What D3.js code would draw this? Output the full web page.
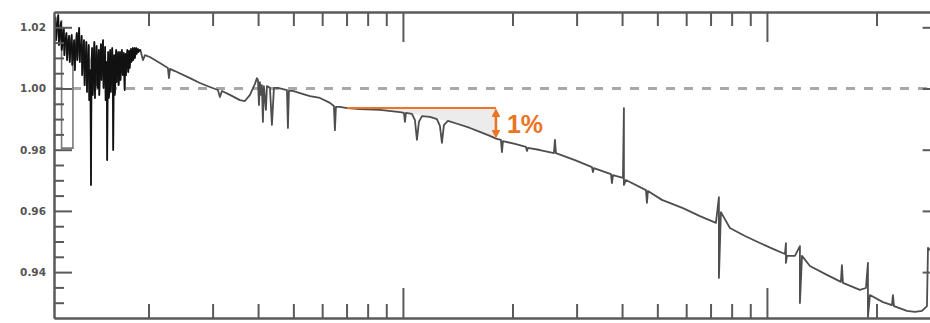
<!DOCTYPE html>
<html>
<head>
<meta charset="utf-8">
<script src="https://cdn.jsdelivr.net/npm/d3@7"></script>
<style>
  html, body { margin: 0; padding: 0; background: #fff; }
  svg { display: block; }
</style>
</head>
<body>
<svg id="chart" width="930" height="323"></svg>
<script>
// Ultraviolet part of the spectrum: dense forest of lines
const uvWavelength = [
  0.111, 0.1115, 0.112, 0.1125, 0.113, 0.1135, 0.114, 0.1145, 0.115, 0.1155,
  0.116, 0.1165, 0.117, 0.1175, 0.118, 0.1185, 0.119, 0.1195, 0.120, 0.1205,
  0.121, 0.1215, 0.122, 0.1225, 0.123, 0.1235, 0.124, 0.1245, 0.125, 0.1255,
  0.126, 0.1265, 0.127, 0.1275, 0.128, 0.1285, 0.129, 0.1295, 0.130, 0.1305,
  0.131, 0.1315, 0.132, 0.1325, 0.133, 0.1335, 0.134, 0.1345, 0.135, 0.1355,
  0.136, 0.1365, 0.137, 0.1375, 0.138, 0.1385, 0.139, 0.1395, 0.140, 0.1405,
  0.141, 0.1415, 0.142, 0.1425, 0.143, 0.1435, 0.144, 0.1445, 0.145, 0.1455,
  0.146, 0.1465, 0.147, 0.1475, 0.148, 0.1485, 0.149, 0.1495, 0.150, 0.1505,
  0.151, 0.1515, 0.152, 0.1525, 0.153, 0.1535, 0.154, 0.1545, 0.155, 0.1555,
  0.156, 0.1565, 0.157, 0.1575, 0.158, 0.1585, 0.159, 0.1595, 0.160, 0.1605,
  0.161, 0.1615, 0.162, 0.1625, 0.163, 0.1635, 0.164, 0.1645, 0.165, 0.1655,
  0.166, 0.1665, 0.167, 0.1675, 0.168, 0.1685, 0.169, 0.1695, 0.170, 0.1705,
  0.171, 0.1715, 0.172, 0.1725, 0.173, 0.1735, 0.174, 0.1745, 0.175, 0.1755,
  0.176, 0.1765, 0.177, 0.1775, 0.178, 0.1785, 0.179, 0.1795, 0.180, 0.1805,
  0.181, 0.1815, 0.182, 0.1825, 0.183, 0.1835, 0.184, 0.1845, 0.185, 0.1855,
  0.186, 0.1865, 0.187, 0.1875, 0.188, 0.1885, 0.189, 0.1895
];
const uvRatio = [
  1.0234, 1.0158, 1.0191, 1.0217, 1.0240, 1.0142, 1.0165, 1.0198, 1.0217, 1.0126,
  1.0142, 1.0185, 1.0198, 1.0109, 1.0152, 1.0165, 1.0181, 1.0093, 1.0126, 1.0158,
  1.0172, 1.0087, 1.0119, 1.0152, 1.0175, 1.0077, 1.0100, 1.0142, 1.0158, 1.0060,
  1.0109, 1.0142, 1.0181, 1.0093, 1.0132, 1.0175, 1.0198, 1.0087, 1.0142, 1.0126,
  1.0172, 1.0044, 1.0087, 1.0132, 1.0158, 1.0011, 1.0067, 1.0109, 1.0152, 0.9989,
  1.0044, 1.0093, 1.0142, 0.9962, 0.9995, 1.0060, 0.9685, 1.0093, 1.0132, 0.9979,
  1.0028, 1.0109, 1.0152, 0.9969, 1.0060, 1.0093, 1.0139, 1.0011, 1.0002, 1.0087,
  1.0126, 0.9979, 1.0054, 1.0109, 1.0145, 1.0028, 1.0077, 1.0126, 1.0158, 1.0002,
  1.0034, 1.0093, 1.0136, 0.9962, 1.0011, 1.0087, 0.9766, 1.0060, 1.0119, 0.9969,
  0.9979, 1.0093, 1.0126, 0.9989, 1.0021, 1.0100, 1.0132, 1.0044, 0.9799, 1.0087,
  1.0109, 0.9979, 1.0002, 1.0100, 1.0126, 1.0021, 1.0060, 1.0093, 1.0119, 1.0011,
  1.0034, 1.0100, 1.0119, 1.0028, 1.0067, 1.0093, 1.0126, 1.0054, 1.0044, 1.0100,
  1.0116, 1.0060, 0.9995, 1.0100, 1.0113, 1.0044, 1.0074, 1.0106, 1.0126, 1.0077,
  1.0054, 1.0109, 1.0123, 1.0067, 1.0083, 1.0113, 1.0129, 1.0087, 1.0093, 1.0119,
  1.0132, 1.0093, 1.0100, 1.0119, 1.0132, 1.0100, 1.0109, 1.0123, 1.0132, 1.0113,
  1.0119, 1.0126, 1.0129, 1.0119, 1.0123, 1.0126, 1.0126, 1.0123
];

// Visible and infrared part: smooth continuum with isolated lines
const wavelength = [
  0.190, 0.1931, 0.1956, 0.2017, 0.2150, 0.2261, 0.2276, 0.2291, 0.2363, 0.2600,
  0.2768, 0.2949, 0.3102, 0.3142, 0.3183, 0.3347, 0.3566, 0.3681, 0.3800, 0.3922,
  0.3971, 0.3997, 0.4022, 0.4046, 0.4072, 0.4098, 0.4124, 0.4150, 0.4204, 0.4231,
  0.4312, 0.4366, 0.4422, 0.4535, 0.4681, 0.4802, 0.4831, 0.4862, 0.4986, 0.5212,
  0.5553, 0.5916, 0.6302, 0.6462, 0.6504, 0.6545, 0.6714, 0.7018, 0.7619, 0.8643,
  0.9812, 1.0063, 1.0127, 1.0192, 1.0586, 1.0788, 1.0926, 1.1065, 1.1277, 1.1863,
  1.2400, 1.2636, 1.2798, 1.2962, 1.3294, 1.4162, 1.5278, 1.6270, 1.7338, 1.8010,
  1.8585, 1.8707, 1.8826, 2.0310, 2.1774, 2.1918, 2.2053, 2.3786, 2.5990, 2.6160,
  2.6322, 2.969, 3.3060, 3.3266, 3.3475, 3.7283, 3.7520, 3.7757, 4.0219, 4.0467,
  4.0467, 4.0983, 4.6522, 4.6814, 4.7107, 5.1475, 5.8792, 6.5463, 7.2424, 7.3806,
  7.3806, 7.4747, 7.9123, 8.7029, 9.567, 10.388, 11.207, 11.278, 11.278, 11.348,
  11.937, 12.321, 12.321, 12.484, 13.126, 14.616, 15.968, 16.069, 16.172, 18.009,
  18.707, 18.945, 18.945, 19.187, 20.834, 22.050, 22.192, 22.335, 24.245, 25.50,
  26.66, 27.522, 27.70, 28.04
];
const ratio = [
  1.0126, 1.0093, 1.0109, 1.0103, 1.0083, 1.0067, 1.0034, 1.0064, 1.0057, 1.0034,
  1.0018, 1.0005, 0.9995, 0.9972, 0.9992, 0.9979, 0.9962, 0.9959, 0.9979, 1.0015,
  1.0034, 1.0028, 0.9946, 1.0021, 0.9979, 1.0011, 0.9891, 1.0008, 0.9930, 1.0008,
  1.0002, 0.9881, 1.0002, 1.0002, 0.9998, 0.9995, 0.9871, 0.9992, 0.9992, 0.9985,
  0.9975, 0.9969, 0.9953, 0.9943, 0.9864, 0.9940, 0.9940, 0.9936, 0.9933, 0.9930,
  0.9923, 0.9920, 0.9891, 0.9920, 0.9917, 0.9897, 0.9832, 0.9891, 0.9910, 0.9907,
  0.9900, 0.9878, 0.9822, 0.9881, 0.9894, 0.9884, 0.9871, 0.9858, 0.9845, 0.9836,
  0.9832, 0.9792, 0.9828, 0.9819, 0.9809, 0.9796, 0.9806, 0.9799, 0.9789, 0.9832,
  0.9789, 0.9766, 0.9743, 0.9727, 0.9740, 0.9720, 0.9691, 0.9717, 0.9708, 0.9936,
  0.9685, 0.9701, 0.9668, 0.9626, 0.9665, 0.9636, 0.9609, 0.9583, 0.9561, 0.9645,
  0.9381, 0.9596, 0.9544, 0.9518, 0.9495, 0.9476, 0.9459, 0.9495, 0.9430, 0.9453,
  0.9453, 0.9485, 0.9299, 0.9453, 0.9420, 0.9391, 0.9368, 0.9423, 0.9365, 0.9342,
  0.9348, 0.9430, 0.9253, 0.9325, 0.9302, 0.9292, 0.9325, 0.9289, 0.9273, 0.9270,
  0.9273, 0.9289, 0.9479, 0.9472
];

// Coarse-binned trace in the far ultraviolet (grey)
const binWavelength = [0.1154, 0.1154, 0.1240, 0.1240];
const binRatio = [1.0224, 0.9805, 0.9805, 1.0149];

// Continuum under the highlighted 1% drop
const shadeWavelength = [0.7018, 0.8643, 0.9812, 1.1863, 1.4162, 1.6270, 1.8010];
const shadeRatio = [0.9936, 0.9930, 0.9923, 0.9907, 0.9884, 0.9858, 0.9836];

const referenceLevel = 1.00;
const dropStart = 0.7018;
const dropEnd = 1.8010;
const dropLevel = 0.9936;
const dropPercent = 1;
const dropLabel = "1%";

const yMajorTicks = [0.94, 0.96, 0.98, 1.00, 1.02];
const yMinorTicks = [0.93, 0.935, 0.945, 0.95, 0.955, 0.965, 0.97, 0.975,
                     0.985, 0.99, 0.995, 1.005, 1.01, 1.015];
const xMajorTicks = [1, 10];
const xMinorTicks = [0.2, 0.3, 0.4, 0.5, 0.6, 0.7, 0.8, 0.9,
                     2, 3, 4, 5, 6, 7, 8, 9, 20];

const plotLeft = 54, plotRight = 940.6, plotTop = 12, plotBottom = 318;
const axisColor = "#5a5a5a";
const orange = "#ec7424";

const svg = d3.select("#chart");
const x = d3.scaleLog().domain([0.11, 30]).range([plotLeft, plotRight]);
const y = d3.scaleLinear().domain([0.925, 1.025]).range([plotBottom, plotTop]);

const defs = svg.append("defs");
defs.append("clipPath").attr("id", "plot-clip")
  .append("rect").attr("x", plotLeft).attr("y", plotTop)
  .attr("width", plotRight - plotLeft).attr("height", plotBottom - plotTop);

defs.append("marker")
  .attr("id", "head").attr("viewBox", "0 0 10 10")
  .attr("refX", 5).attr("refY", 5)
  .attr("markerWidth", 3.4).attr("markerHeight", 3.4)
  .attr("orient", "auto-start-reverse")
  .append("path").attr("d", "M0,0 L10,5 L0,10 z").attr("fill", orange);

const plot = svg.append("g").attr("clip-path", "url(#plot-clip)");

// Light band between the flat reference and the continuum
const shade = shadeWavelength.map((w, i) => [w, shadeRatio[i]]);
plot.append("path")
  .datum(shade)
  .attr("fill", "#ececec")
  .attr("d", d3.area()
    .x(d => x(d[0]))
    .y0(y(dropLevel))
    .y1(d => y(d[1])));

// Dashed unity line
plot.append("line")
  .attr("x1", plotLeft).attr("x2", plotRight)
  .attr("y1", y(referenceLevel)).attr("y2", y(referenceLevel))
  .attr("stroke", "#a8a8a8").attr("stroke-width", 3)
  .attr("stroke-dasharray", "9,9");

const line = d3.line().x(d => x(d[0])).y(d => y(d[1]));

// Binned trace
plot.append("path")
  .datum(binWavelength.map((w, i) => [w, binRatio[i]]))
  .attr("fill", "none").attr("stroke", "#7a7a7a").attr("stroke-width", 1.6)
  .attr("d", line);

// Spectrum
const uvPart = uvWavelength.map((w, i) => [w, uvRatio[i]]);
const mainPart = wavelength.map((w, i) => [w, ratio[i]]);
plot.append("path")
  .datum(uvPart.concat(mainPart))
  .attr("fill", "none").attr("stroke", "#4e4e4e")
  .attr("stroke-width", 1.8).attr("stroke-linejoin", "round")
  .attr("d", line);
plot.append("path")
  .datum(uvPart.concat([mainPart[0]]))
  .attr("fill", "none").attr("stroke", "#111")
  .attr("stroke-width", 1.5).attr("stroke-linejoin", "round")
  .attr("d", line);

// Orange flat level and the drop arrow
svg.append("line")
  .attr("x1", x(dropStart)).attr("x2", x(dropEnd))
  .attr("y1", y(dropLevel)).attr("y2", y(dropLevel))
  .attr("stroke", orange).attr("stroke-width", 2);
const dropBottom = dropLevel - dropPercent / 100;
svg.append("line")
  .attr("x1", x(dropEnd)).attr("x2", x(dropEnd))
  .attr("y1", y(dropLevel) + 4.5).attr("y2", y(dropBottom) - 4.5)
  .attr("stroke", orange).attr("stroke-width", 2.6)
  .attr("marker-start", "url(#head)").attr("marker-end", "url(#head)");
svg.append("text")
  .attr("x", x(dropEnd) + 11)
  .attr("y", (y(dropLevel) + y(dropBottom)) / 2 + 10)
  .attr("fill", orange)
  .attr("font-family", "Liberation Sans, Arial, sans-serif")
  .attr("font-weight", "bold").attr("font-size", 25)
  .text(dropLabel);

// Axes on all four sides, ticks pointing inward
function styleAxis(g) {
  g.select(".domain").attr("stroke", axisColor).attr("stroke-width", 2);
  g.selectAll(".tick line").attr("stroke", axisColor).attr("stroke-width", 2);
}

svg.append("g").attr("transform", `translate(${plotLeft},0)`)
  .call(d3.axisLeft(y).tickValues(yMinorTicks).tickSize(-10).tickSizeOuter(0).tickFormat(""))
  .call(styleAxis);
svg.append("g").attr("transform", `translate(${plotLeft},0)`)
  .call(d3.axisLeft(y).tickValues(yMajorTicks).tickSize(-18).tickSizeOuter(0)
    .tickPadding(8).tickFormat(d3.format(".2f")))
  .call(styleAxis)
  .call(g => g.selectAll(".tick text")
    .attr("fill", "#555")
    .attr("font-family", "DejaVu Sans, sans-serif")
    .attr("font-size", 10.5)
    .attr("font-weight", "bold"));

svg.append("g").attr("transform", `translate(${plotRight},0)`)
  .call(d3.axisRight(y).tickValues(yMinorTicks).tickSize(-10).tickSizeOuter(0).tickFormat(""))
  .call(styleAxis);
svg.append("g").attr("transform", `translate(${plotRight},0)`)
  .call(d3.axisRight(y).tickValues(yMajorTicks).tickSize(-18).tickSizeOuter(0).tickFormat(""))
  .call(styleAxis);

[["top", plotTop, d3.axisTop], ["bottom", plotBottom, d3.axisBottom]].forEach(([name, pos, make]) => {
  svg.append("g").attr("class", "x-" + name).attr("transform", `translate(0,${pos})`)
    .call(make(x).tickValues(xMinorTicks).tickSize(-14).tickSizeOuter(0).tickFormat(""))
    .call(styleAxis);
  svg.append("g").attr("transform", `translate(0,${pos})`)
    .call(make(x).tickValues(xMajorTicks).tickSize(-30).tickSizeOuter(0).tickFormat(""))
    .call(styleAxis);
});
</script>
</body>
</html>
